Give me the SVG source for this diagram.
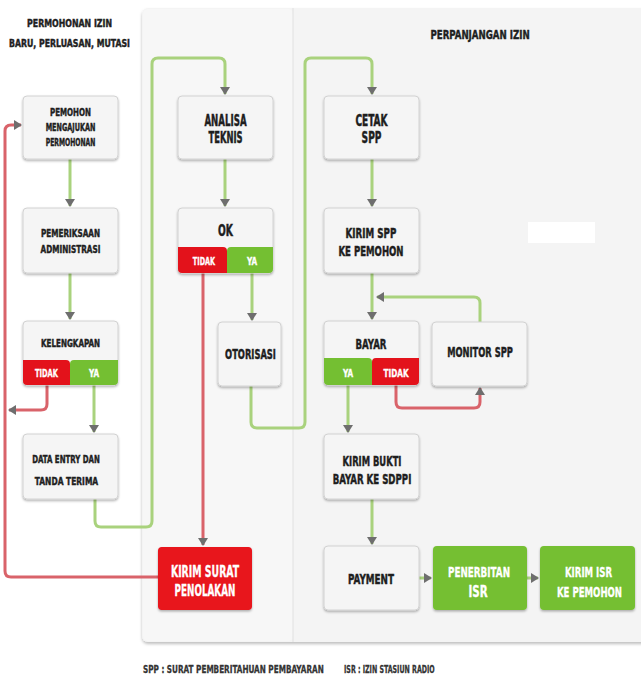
<svg xmlns="http://www.w3.org/2000/svg" width="641" height="680" viewBox="0 0 641 680">
<defs>
<style>
.t{font-family:"DejaVu Sans Condensed","DejaVu Sans",sans-serif;font-weight:bold;fill:#1e1e1e;stroke:#1e1e1e;stroke-width:0.45;text-anchor:middle;}
.w{fill:#ffffff;stroke:#ffffff;stroke-width:0.3;}
.s11{font-size:11px;}
.s10{font-size:10px;}
.s14{font-size:14px;}
.s15{font-size:15px;}
.lg{font-size:11px;text-anchor:start;fill:#333;stroke:#333;stroke-width:0.3;}
.box{fill:#f5f5f5;stroke:#d2d2d2;stroke-width:1;filter:url(#sh);}
.g{fill:none;stroke:#a9d27d;stroke-width:3;stroke-linejoin:round;}
.r{fill:none;stroke:#d9636a;stroke-width:3;stroke-linejoin:round;}
.red{fill:#e3121b;}
.grn{fill:#74bf32;}
</style>
<filter id="sh" x="-10%" y="-10%" width="120%" height="130%">
<feDropShadow dx="0" dy="1.5" stdDeviation="1.2" flood-color="#000" flood-opacity="0.3"/>
</filter>
<filter id="psh" x="-5%" y="-5%" width="110%" height="110%">
<feDropShadow dx="0" dy="2" stdDeviation="1.5" flood-color="#000" flood-opacity="0.25"/>
</filter>
<marker id="ah" markerWidth="10" markerHeight="10" refX="7" refY="5" orient="auto" markerUnits="userSpaceOnUse">
<path d="M0,0 L8,5 L0,10 Z" fill="#6e6e6e"/>
</marker>
</defs>
<rect x="0" y="0" width="641" height="680" fill="#ffffff"/>
<g id="panel">
<rect x="142" y="8" width="520" height="634" rx="6" fill="#f4f4f4" filter="url(#psh)"/>
<rect x="143" y="9" width="150" height="632" rx="5" fill="#f7f7f7"/>
<line x1="293" y1="8" x2="293" y2="642" stroke="#e0e0e0" stroke-width="1"/>
<rect x="528" y="222" width="67" height="21" fill="#ffffff"/>
</g>
<g id="titles">
<text class="t s11" transform="translate(69.5,27) scale(0.72,1)" textLength="118" lengthAdjust="spacingAndGlyphs">PERMOHONAN IZIN</text>
<text class="t s11" transform="translate(69.5,47) scale(0.72,1)" textLength="168" lengthAdjust="spacingAndGlyphs">BARU, PERLUASAN, MUTASI</text>
<text class="t" style="font-size:13px" transform="translate(480,39) scale(0.62,1)" textLength="160" lengthAdjust="spacingAndGlyphs">PERPANJANGAN IZIN</text>
</g>
<g id="connectors">
<path class="g" d="M70,159 V206" marker-end="url(#ah)"/>
<path class="g" d="M70,273 V319" marker-end="url(#ah)"/>
<path class="r" d="M47,385 V404 Q47,410 41,410 H9" marker-end="url(#ah)"/>
<path class="g" d="M94,385 V432" marker-end="url(#ah)"/>
<path class="g" d="M95,499 V521 Q95,527 101,527 H146 Q152,527 152,521 V64 Q152,58 158,58 H219 Q225,58 225,64 V94" marker-end="url(#ah)"/>
<path class="g" d="M225,159 V206" marker-end="url(#ah)"/>
<path class="r" d="M203,273 V545" marker-end="url(#ah)"/>
<path class="g" d="M252,273 V320" marker-end="url(#ah)"/>
<path class="g" d="M251,386 V422 Q251,428 257,428 H299 Q305,428 305,422 V64 Q305,58 311,58 H366 Q372,58 372,64 V94" marker-end="url(#ah)"/>
<path class="g" d="M372,159 V206" marker-end="url(#ah)"/>
<path class="g" d="M372,273 V319" marker-end="url(#ah)"/>
<path class="g" d="M480,322 V303 Q480,297 474,297 H377" marker-end="url(#ah)"/>
<path class="r" d="M396,385 V402 Q396,408 402,408 H474 Q480,408 480,402 V388" marker-end="url(#ah)"/>
<path class="g" d="M348,385 V432" marker-end="url(#ah)"/>
<path class="g" d="M372,499 V544" marker-end="url(#ah)"/>
<path class="g" d="M419,578 H431" marker-end="url(#ah)"/>
<path class="g" d="M527,578 H538" marker-end="url(#ah)"/>
<path class="r" d="M158,577 H11 Q5,577 5,571 V131 Q5,125 11,125 H21" marker-end="url(#ah)"/>
</g>
<g id="n-pemohon">
<rect class="box" x="23" y="96" width="95" height="63" rx="4"/>
<text class="t s11" transform="translate(70.5,116) scale(0.72,1)" textLength="57" lengthAdjust="spacingAndGlyphs">PEMOHON</text>
<text class="t s11" transform="translate(70.5,131) scale(0.72,1)" textLength="69" lengthAdjust="spacingAndGlyphs">MENGAJUKAN</text>
<text class="t s11" transform="translate(70.5,146) scale(0.72,1)" textLength="69" lengthAdjust="spacingAndGlyphs">PERMOHONAN</text>
</g>
<g id="n-analisa">
<rect class="box" x="178" y="96" width="95" height="63" rx="4"/>
<text class="t s15" transform="translate(225.5,126) scale(0.62,1)" textLength="68" lengthAdjust="spacingAndGlyphs">ANALISA</text>
<text class="t s15" transform="translate(225.5,143) scale(0.62,1)" textLength="55" lengthAdjust="spacingAndGlyphs">TEKNIS</text>
</g>
<g id="n-cetak">
<rect class="box" x="324" y="96" width="95" height="63" rx="4"/>
<text class="t s15" transform="translate(371.5,126) scale(0.62,1)" textLength="52" lengthAdjust="spacingAndGlyphs">CETAK</text>
<text class="t s15" transform="translate(371.5,143) scale(0.62,1)" textLength="32" lengthAdjust="spacingAndGlyphs">SPP</text>
</g>
<g id="n-pemeriksaan">
<rect class="box" x="23" y="208" width="95" height="65" rx="4"/>
<text class="t s11" transform="translate(70.5,237) scale(0.72,1)" textLength="82" lengthAdjust="spacingAndGlyphs">PEMERIKSAAN</text>
<text class="t s11" transform="translate(70.5,253) scale(0.72,1)" textLength="83" lengthAdjust="spacingAndGlyphs">ADMINISTRASI</text>
</g>
<g id="n-ok">
<rect class="box" x="178" y="208" width="95" height="65" rx="4"/>
<path class="red" d="M178,247 H223 Q227,247 227,251 V273 H182 Q178,273 178,269 Z"/>
<path class="grn" d="M229,247 H273 V269 Q273,273 269,273 H227 V251 Q227,247 231,247 Z"/>
<text class="t s15" transform="translate(225.5,236) scale(0.62,1)" textLength="24" lengthAdjust="spacingAndGlyphs">OK</text>
<text class="t s10 w" transform="translate(204,265) scale(0.72,1)" textLength="31" lengthAdjust="spacingAndGlyphs">TIDAK</text>
<text class="t s10 w" transform="translate(252,265) scale(0.72,1)" textLength="14" lengthAdjust="spacingAndGlyphs">YA</text>
</g>
<g id="n-kelengkapan">
<rect class="box" x="23" y="321" width="95" height="64" rx="4"/>
<path class="red" d="M23,360 H66 Q70,360 70,364 V385 H27 Q23,385 23,381 Z"/>
<path class="grn" d="M72,360 H118 V381 Q118,385 114,385 H70 V364 Q70,360 74,360 Z"/>
<text class="t s11" transform="translate(70.5,347) scale(0.72,1)" textLength="82" lengthAdjust="spacingAndGlyphs">KELENGKAPAN</text>
<text class="t s10 w" transform="translate(46.5,377) scale(0.72,1)" textLength="32" lengthAdjust="spacingAndGlyphs">TIDAK</text>
<text class="t s10 w" transform="translate(94,377) scale(0.72,1)" textLength="14" lengthAdjust="spacingAndGlyphs">YA</text>
</g>
<g id="n-otorisasi">
<rect class="box" x="218" y="322" width="63" height="64" rx="4"/>
<text class="t s14" transform="translate(250.5,359) scale(0.62,1)" textLength="82" lengthAdjust="spacingAndGlyphs">OTORISASI</text>
</g>
<g id="n-kirimspp">
<rect class="box" x="324" y="208" width="95" height="65" rx="4"/>
<text class="t s14" transform="translate(371,238) scale(0.62,1)" textLength="82" lengthAdjust="spacingAndGlyphs">KIRIM SPP</text>
<text class="t s14" transform="translate(371,256) scale(0.62,1)" textLength="105" lengthAdjust="spacingAndGlyphs">KE PEMOHON</text>
</g>
<g id="n-bayar">
<rect class="box" x="324" y="321" width="95" height="64" rx="4"/>
<path class="grn" d="M324,358 H368 Q372,358 372,362 V385 H328 Q324,385 324,381 Z"/>
<path class="red" d="M374,358 H419 V381 Q419,385 415,385 H372 V362 Q372,358 376,358 Z"/>
<text class="t s14" transform="translate(371,349) scale(0.62,1)" textLength="50" lengthAdjust="spacingAndGlyphs">BAYAR</text>
<text class="t s10 w" transform="translate(348,377) scale(0.72,1)" textLength="14" lengthAdjust="spacingAndGlyphs">YA</text>
<text class="t s10 w" transform="translate(396,377) scale(0.72,1)" textLength="35" lengthAdjust="spacingAndGlyphs">TIDAK</text>
</g>
<g id="n-monitor">
<rect class="box" x="432" y="322" width="95" height="64" rx="4"/>
<text class="t s14" transform="translate(480,357) scale(0.62,1)" textLength="106" lengthAdjust="spacingAndGlyphs">MONITOR SPP</text>
</g>
<g id="n-dataentry">
<rect class="box" x="23" y="434" width="95" height="65" rx="4"/>
<text class="t s11" transform="translate(66,463) scale(0.72,1)" textLength="94" lengthAdjust="spacingAndGlyphs">DATA ENTRY DAN</text>
<text class="t s11" transform="translate(66.5,485) scale(0.72,1)" textLength="88" lengthAdjust="spacingAndGlyphs">TANDA TERIMA</text>
</g>
<g id="n-penolakan">
<rect x="158" y="547" width="94" height="63" rx="4" fill="#e8121a" filter="url(#sh)"/>
<text class="t s15 w" transform="translate(205,577) scale(0.62,1)" textLength="110" lengthAdjust="spacingAndGlyphs">KIRIM SURAT</text>
<text class="t s15 w" transform="translate(205,596) scale(0.62,1)" textLength="98" lengthAdjust="spacingAndGlyphs">PENOLAKAN</text>
</g>
<g id="n-kirimbukti">
<rect class="box" x="324" y="434" width="95" height="65" rx="4"/>
<text class="t s14" transform="translate(372,466) scale(0.62,1)" textLength="95" lengthAdjust="spacingAndGlyphs">KIRIM BUKTI</text>
<text class="t s14" transform="translate(372,484) scale(0.62,1)" textLength="127" lengthAdjust="spacingAndGlyphs">BAYAR KE SDPPI</text>
</g>
<g id="n-payment">
<rect class="box" x="324" y="546" width="95" height="64" rx="4"/>
<text class="t s14" transform="translate(371,584) scale(0.62,1)" textLength="74" lengthAdjust="spacingAndGlyphs">PAYMENT</text>
</g>
<g id="n-penerbitan">
<rect x="433" y="546" width="94" height="64" rx="4" fill="#74bf32" filter="url(#sh)"/>
<text class="t s14 w" transform="translate(479,577) scale(0.62,1)" textLength="100" lengthAdjust="spacingAndGlyphs">PENERBITAN</text>
<text class="t s15 w" transform="translate(478,597) scale(0.62,1)" textLength="31" lengthAdjust="spacingAndGlyphs">ISR</text>
</g>
<g id="n-kirimisr">
<rect x="540" y="546" width="95" height="64" rx="4" fill="#74bf32" filter="url(#sh)"/>
<text class="t s14 w" transform="translate(588.5,577) scale(0.62,1)" textLength="76" lengthAdjust="spacingAndGlyphs">KIRIM ISR</text>
<text class="t s14 w" transform="translate(589.5,597) scale(0.62,1)" textLength="105" lengthAdjust="spacingAndGlyphs">KE PEMOHON</text>
</g>
<g id="legend">
<text class="t lg" transform="translate(143,673) scale(0.72,1)" textLength="251" lengthAdjust="spacingAndGlyphs">SPP : SURAT PEMBERITAHUAN PEMBAYARAN</text>
<text class="t lg" transform="translate(344,673) scale(0.72,1)" textLength="126" lengthAdjust="spacingAndGlyphs">ISR : IZIN STASIUN RADIO</text>
</g>
</svg>
